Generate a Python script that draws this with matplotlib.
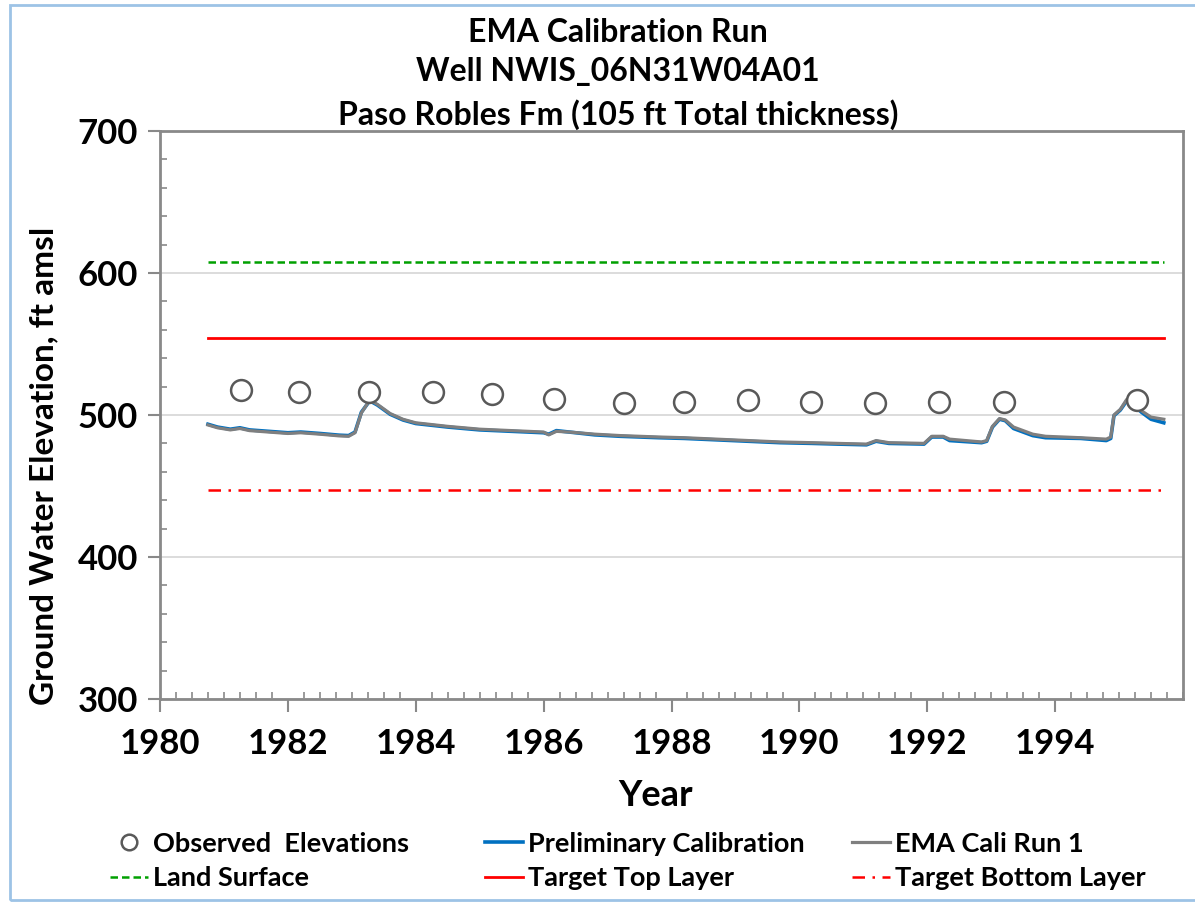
import matplotlib
matplotlib.use("Agg")
import matplotlib.pyplot as plt
from matplotlib.patches import Rectangle

plt.rcParams['font.family'] = ['Lato', 'DejaVu Sans']
plt.rcParams['font.weight'] = 'bold'

# Observed water levels (spring measurements)
obs_year = [1981.27, 1982.17, 1983.27, 1984.27, 1985.2, 1986.17, 1987.26,
            1988.19, 1989.2, 1990.18, 1991.18, 1992.19, 1993.2, 1995.28]
obs_elev = [517.5, 516.5, 516.5, 516.5, 514.5, 511.5, 508.5,
            509.5, 510.5, 509.5, 508.5, 509.5, 509.5, 510.5]

# Simulated heads
sim_year = [1980.75, 1980.9, 1981.1, 1981.25, 1981.4, 1981.7, 1982.0, 1982.2,
            1982.5, 1982.8, 1982.95, 1983.05, 1983.15, 1983.28, 1983.4, 1983.6,
            1983.8, 1984.0, 1984.5, 1985.0, 1985.5, 1986.0, 1986.08, 1986.2,
            1986.4, 1986.8, 1987.2, 1987.8, 1988.2, 1988.7, 1989.2, 1989.7,
            1990.2, 1990.6, 1991.05, 1991.2, 1991.4, 1991.95, 1992.07, 1992.25,
            1992.35, 1992.85, 1992.93, 1993.02, 1993.13, 1993.22, 1993.35, 1993.65,
            1993.85, 1994.4, 1994.8, 1994.87, 1994.92, 1995.02, 1995.12, 1995.2,
            1995.35, 1995.5, 1995.7]
prelim = [493.5, 491.5, 490.0, 491.0, 489.5, 488.5, 487.5, 488.0,
          487.0, 485.8, 485.5, 488.0, 502.0, 510.0, 507.0, 500.5,
          496.5, 494.0, 491.5, 489.5, 488.5, 487.5, 486.5, 489.0,
          488.0, 486.0, 485.0, 484.0, 483.5, 482.5, 481.5, 480.5,
          480.0, 479.5, 479.0, 481.5, 480.0, 479.5, 484.5, 484.5,
          482.0, 480.5, 481.5, 491.5, 497.0, 496.0, 490.5, 485.5,
          484.0, 483.5, 482.0, 483.5, 499.5, 503.5, 510.0, 508.0,
          502.0, 497.0, 494.5]
ema = [493.0, 491.0, 489.5, 490.5, 489.0, 488.0, 487.0, 487.5,
       486.5, 485.3, 485.0, 487.5, 501.5, 510.5, 507.5, 501.0,
       497.0, 494.5, 492.0, 490.0, 489.0, 488.0, 486.0, 488.5,
       488.0, 486.5, 485.5, 484.5, 484.0, 483.0, 482.0, 481.0,
       480.5, 480.0, 479.5, 482.0, 480.5, 480.0, 485.0, 485.0,
       483.0, 481.0, 482.0, 492.0, 497.5, 496.5, 491.5, 486.5,
       485.0, 484.0, 483.0, 484.5, 500.0, 504.0, 511.0, 509.0,
       503.0, 498.5, 497.0]

# Reference elevations
line_years = [1980.75, 1995.7]
land_surface = 608
target_top = 554
target_bottom = 447

fig = plt.figure(figsize=(11.95, 9.02), dpi=100)
ax = fig.add_axes([160/1195, 1-699/902, 1023/1195, 568/902])

ax.plot(line_years, [land_surface]*2, color='#00a000', lw=1.8, dashes=(3, 1.6), label='Land Surface')
ax.plot(line_years, [target_top]*2, color='#ff0000', lw=2.0, label='Target Top Layer')
ax.plot(line_years, [target_bottom]*2, color='#ff0000', lw=1.8, dashes=(5, 3, 1, 3), label='Target Bottom Layer')
ax.plot(sim_year, prelim, color='#0070c0', lw=2.6, label='Preliminary Calibration')
ax.plot(sim_year, ema, color='#7f7f7f', lw=2.3, label='EMA Cali Run 1')
ax.plot(obs_year, obs_elev, ls='none', marker='o', ms=15, mfc='white', mec='#595959', mew=1.8,
        label='Observed  Elevations')

ax.set_xlim(1980, 1996)
ax.set_ylim(300, 700)
ax.set_xticks(range(1980, 1995, 2))
ax.set_xticks([1980 + 0.25*i for i in range(65)], minor=True)
ax.set_yticks(range(300, 701, 100))
ax.set_yticks(range(300, 701, 20), minor=True)
ax.yaxis.grid(True, color='#d9d9d9', lw=1.3)
ax.set_axisbelow(True)
for s in ax.spines.values():
    s.set_color('#898989')
    s.set_linewidth(2)
ax.tick_params(which='major', direction='out', length=9, width=1.5, color='#898989', labelsize=25, pad=7)
ax.tick_params(which='minor', direction='in', length=5, width=1.2, color='#898989')
ax.tick_params(axis='x', which='major', pad=12)

# titles and axis labels
fig.text(618/1195, 1-32/902, 'EMA Calibration Run', ha='center', va='center', fontsize=23)
fig.text(618/1195, 1-72/902, 'Well NWIS_06N31W04A01', ha='center', va='center', fontsize=23)
fig.text(618/1195, 1-115/902, 'Paso Robles Fm (105 ft Total thickness)', ha='center', va='center', fontsize=23)
fig.text(44/1195, 1-466/902, 'Ground Water Elevation, ft amsl', rotation=90, ha='center', va='center', fontsize=24)
fig.text(656/1195, 1-795/902, 'Year', ha='center', va='center', fontsize=26)

# legend, one block per column like the Excel layout
h = {l.get_label(): l for l in ax.get_lines()}
columns = [(110, ['Observed  Elevations', 'Land Surface']),
           (485, ['Preliminary Calibration', 'Target Top Layer']),
           (852, ['EMA Cali Run 1', 'Target Bottom Layer'])]
for x0, names in columns:
    fig.legend([h[k] for k in names], names, loc='center left',
               bbox_to_anchor=(x0/1195, 1-861/902), borderaxespad=0, borderpad=0,
               frameon=False, fontsize=19.5, handlelength=1.4, handletextpad=0.2,
               labelspacing=0.4, markerscale=0.75)

# chart border
fig.patches.append(Rectangle((10/1195, 2/902), 1.2, 895/902, transform=fig.transFigure,
                             fill=False, edgecolor='#9dc3e6', lw=2))

fig.savefig('out.png', dpi=100)
